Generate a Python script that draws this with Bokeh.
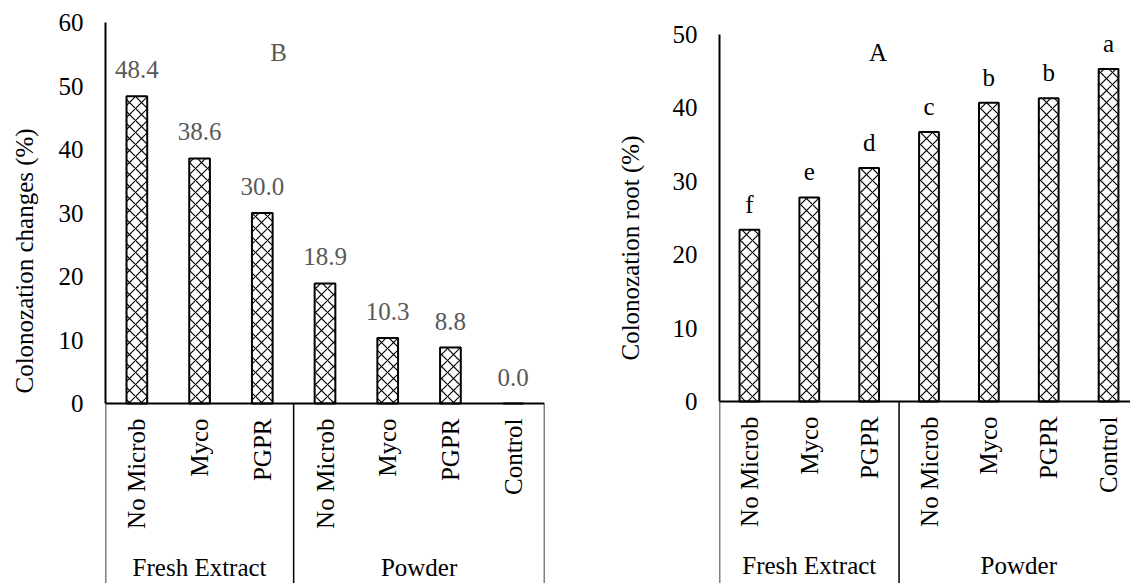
import math
from bokeh.plotting import figure
from bokeh.models import (ColumnDataSource, FactorRange, Range1d, FixedTicker, LabelSet, Label,
                          CategoricalAxis, Title)
from bokeh.layouts import row
from bokeh.embed import file_html
from bokeh.resources import INLINE

# ---------------- data ----------------
groups = ["Fresh Extract", "Powder"]
fresh_treatments = ["No Microb", "Myco", "PGPR"]
powder_treatments = ["No Microb", "Myco", "PGPR", "Control"]
changes_values = [48.4, 38.6, 30.0, 18.9, 10.3, 8.8, 0.0]
root_values = [23.4, 27.8, 31.8, 36.7, 40.7, 41.3, 45.3]
root_letters = ["f", "e", "d", "c", "b", "b", "a"]
changes_ticks = [0, 10, 20, 30, 40, 50, 60]
root_ticks = [0, 10, 20, 30, 40, 50]
changes_title = "Colonozation changes (%)"
root_title = "Colonozation root (%)"

factors = [(groups[0], t) for t in fresh_treatments] + [(groups[1], t) for t in powder_treatments]

FONT = "Liberation Serif"
FS = "25px"
H = 583


def make_chart(values, labels, ticks, ytitle, panel, text_color, width, mb_left, mb_right,
               top_px, zero_px, label_offset, title_offset, title_standoff, panel_xy,
               box_edges, margin):
    ymax = ticks[-1]
    ystart = -ymax * (H - zero_px) / (zero_px - top_px)
    src = ColumnDataSource(dict(x=factors, top=values, label=labels))
    xr = FactorRange(*factors, factor_padding=0, group_padding=0, subgroup_padding=0,
                     range_padding=0)
    p = figure(x_range=xr, y_range=Range1d(ystart, ymax), width=width, height=H,
               output_backend="svg", toolbar_location=None, frame_align=False,
               min_border_left=mb_left, min_border_right=mb_right,
               min_border_top=top_px, min_border_bottom=0, margin=margin)
    p.outline_line_color = None
    p.xgrid.visible = False
    p.ygrid.visible = False
    p.background_fill_color = "white"
    p.border_fill_color = "white"

    p.vbar(x="x", top="top", width=0.33, source=src, fill_color="white",
           line_color="black", line_width=2, hatch_pattern="diagonal_cross",
           hatch_color="black", hatch_weight=1.2, hatch_scale=12)

    p.add_layout(LabelSet(x="x", y="top", text="label", source=src, y_offset=label_offset,
                          text_align="center", text_baseline="alphabetic",
                          text_font=FONT, text_font_size=FS, text_color=text_color))

    # category box lines below the axis
    p.segment(x0=box_edges, y0=[0] * len(box_edges), x1=box_edges,
              y1=[ystart] * len(box_edges), line_color="black", line_width=1.5)

    # y axis
    ya = p.yaxis[0]
    ya.ticker = FixedTicker(ticks=ticks)
    ya.bounds = (0, ymax)
    ya.major_tick_line_color = None
    ya.minor_tick_line_color = None
    ya.major_tick_out = 0
    ya.major_tick_in = 0
    ya.axis_line_width = 2
    ya.axis_line_color = "black"
    ya.major_label_standoff = 22
    ya.major_label_text_font = FONT
    ya.major_label_text_font_size = FS
    ya.major_label_text_color = "black"

    # inner category axis (treatments)
    xa = p.xaxis[0]
    xa.fixed_location = 0
    xa.axis_line_width = 2
    xa.axis_line_color = "black"
    xa.major_tick_line_color = None
    xa.major_tick_out = 0
    xa.major_tick_in = 0
    xa.major_label_orientation = math.pi / 2
    xa.major_label_standoff = 15
    xa.major_label_text_font = FONT
    xa.major_label_text_font_size = FS
    xa.major_label_text_color = "black"
    xa.group_text_color = None
    xa.separator_line_color = None

    # outer category axis (groups)
    ga = CategoricalAxis(fixed_location=0)
    ga.axis_line_color = None
    ga.major_tick_line_color = None
    ga.major_tick_out = 0
    ga.major_tick_in = 0
    ga.major_label_text_color = None
    ga.major_label_standoff = 150
    ga.group_text_font = FONT
    ga.group_text_font_size = FS
    ga.group_text_font_style = "normal"
    ga.group_text_color = "black"
    ga.separator_line_color = None
    p.add_layout(ga, "below")

    p.add_layout(Title(text=ytitle, align="left", offset=title_offset,
                       standoff=title_standoff, text_font=FONT, text_font_size=FS,
                       text_font_style="normal", text_color="black"), "left")

    p.add_layout(Label(x=panel_xy[0], y=panel_xy[1], text=panel, text_align="center",
                       text_baseline="alphabetic", text_font=FONT, text_font_size=FS,
                       text_color=text_color))
    return p


n_fresh = len(fresh_treatments)
n_all = len(factors)

p1 = make_chart(changes_values, [f"{v:.1f}" for v in changes_values], changes_ticks,
                changes_title, "B", "#595959", 569, 112, 16, 22, 403, 18,
                190, 35, (2.76, 55.3), [0, n_fresh, n_all], (0, 0, 0, -9))
p2 = make_chart(root_values, root_letters, root_ticks, root_title, "A", "black",
                578, 159, 0, 34, 401, 17,
                223, 51, (2.65, 47.6), [0, n_fresh, n_all], 0)

layout = row(p1, p2, width=1130, styles={"overflow": "hidden"})

with open("out.html", "w") as f:
    f.write(file_html(layout, INLINE))
